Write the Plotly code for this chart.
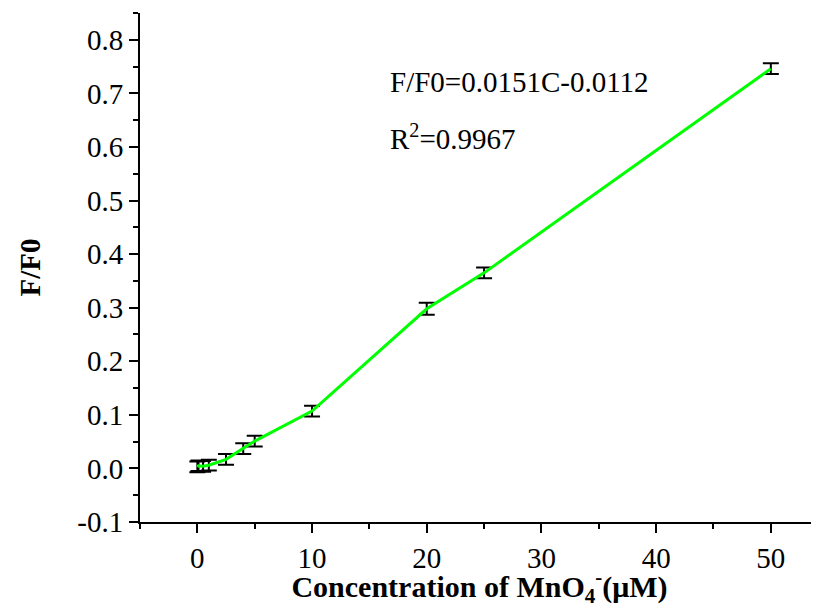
import plotly.graph_objects as go

conc = [0, 0.1, 0.5, 1, 2.5, 4, 5, 10, 20, 25, 50]
ratio = [0.003, 0.005, 0.004, 0.006, 0.017, 0.037, 0.051, 0.107, 0.298, 0.365, 0.746]
err = [0.01, 0.01, 0.01, 0.01, 0.01, 0.01, 0.01, 0.01, 0.011, 0.01, 0.01]

x_ticks = [0, 10, 20, 30, 40, 50]
y_ticks = [-0.1, 0.0, 0.1, 0.2, 0.3, 0.4, 0.5, 0.6, 0.7, 0.8]
y_tick_text = ["-0.1", "0.0", "0.1", "0.2", "0.3", "0.4", "0.5", "0.6", "0.7", "0.8"]

FONT = "Times New Roman, Liberation Serif, serif"
FS = 29

fig = go.Figure()
fig.add_trace(go.Scatter(
    x=conc, y=ratio, mode="lines",
    line=dict(color="#00ff00", width=3),
    error_y=dict(type="data", array=err, visible=True, color="black", thickness=2, width=8),
    showlegend=False,
))

fig.add_annotation(x=0.365, y=0.864, xref="paper", yref="paper", xanchor="left", yanchor="middle",
                   text="F/F0=0.0151C-0.0112", showarrow=False,
                   font=dict(family=FONT, size=FS, color="black"))
fig.add_annotation(x=0.365, y=0.756, xref="paper", yref="paper", xanchor="left", yanchor="middle",
                   text="R<sup>2</sup>=0.9967", showarrow=False,
                   font=dict(family=FONT, size=FS, color="black"))

# page body has an 8px default margin; compensate so the plot area lands at the same pixels
fig.update_layout(
    width=811, height=600,
    margin=dict(l=132, r=0, t=5, b=86),
    plot_bgcolor="white", paper_bgcolor="white",
    font=dict(family=FONT, size=FS, color="black"),
    xaxis=dict(
        range=[-5, 54.2], tickvals=x_ticks, showgrid=False, zeroline=False,
        showline=True, linecolor="black", linewidth=2,
        ticks="outside", ticklen=9, tickwidth=2, tickcolor="black",
        minor=dict(dtick=5, tick0=-5, ticks="outside", ticklen=5, tickwidth=2, tickcolor="black"),
        title=dict(text="<b>Concentration of MnO<sub>4</sub><sup>-</sup>(μM)</b>",
                   font=dict(family=FONT, size=30, color="black"), standoff=11),
        tickfont=dict(family=FONT, size=FS, color="black"),
    ),
    yaxis=dict(
        range=[-0.1, 0.85], tickvals=y_ticks, ticktext=y_tick_text, showgrid=False, zeroline=False,
        showline=True, linecolor="black", linewidth=2,
        ticks="outside", ticklen=9, tickwidth=2, tickcolor="black",
        minor=dict(dtick=0.05, tick0=-0.1, ticks="outside", ticklen=5, tickwidth=2, tickcolor="black"),
        title=dict(text="<b>F/F0</b>", font=dict(family=FONT, size=FS, color="black"), standoff=28),
        tickfont=dict(family=FONT, size=FS, color="black"),
    ),
)

fig.write_html("out.html")
